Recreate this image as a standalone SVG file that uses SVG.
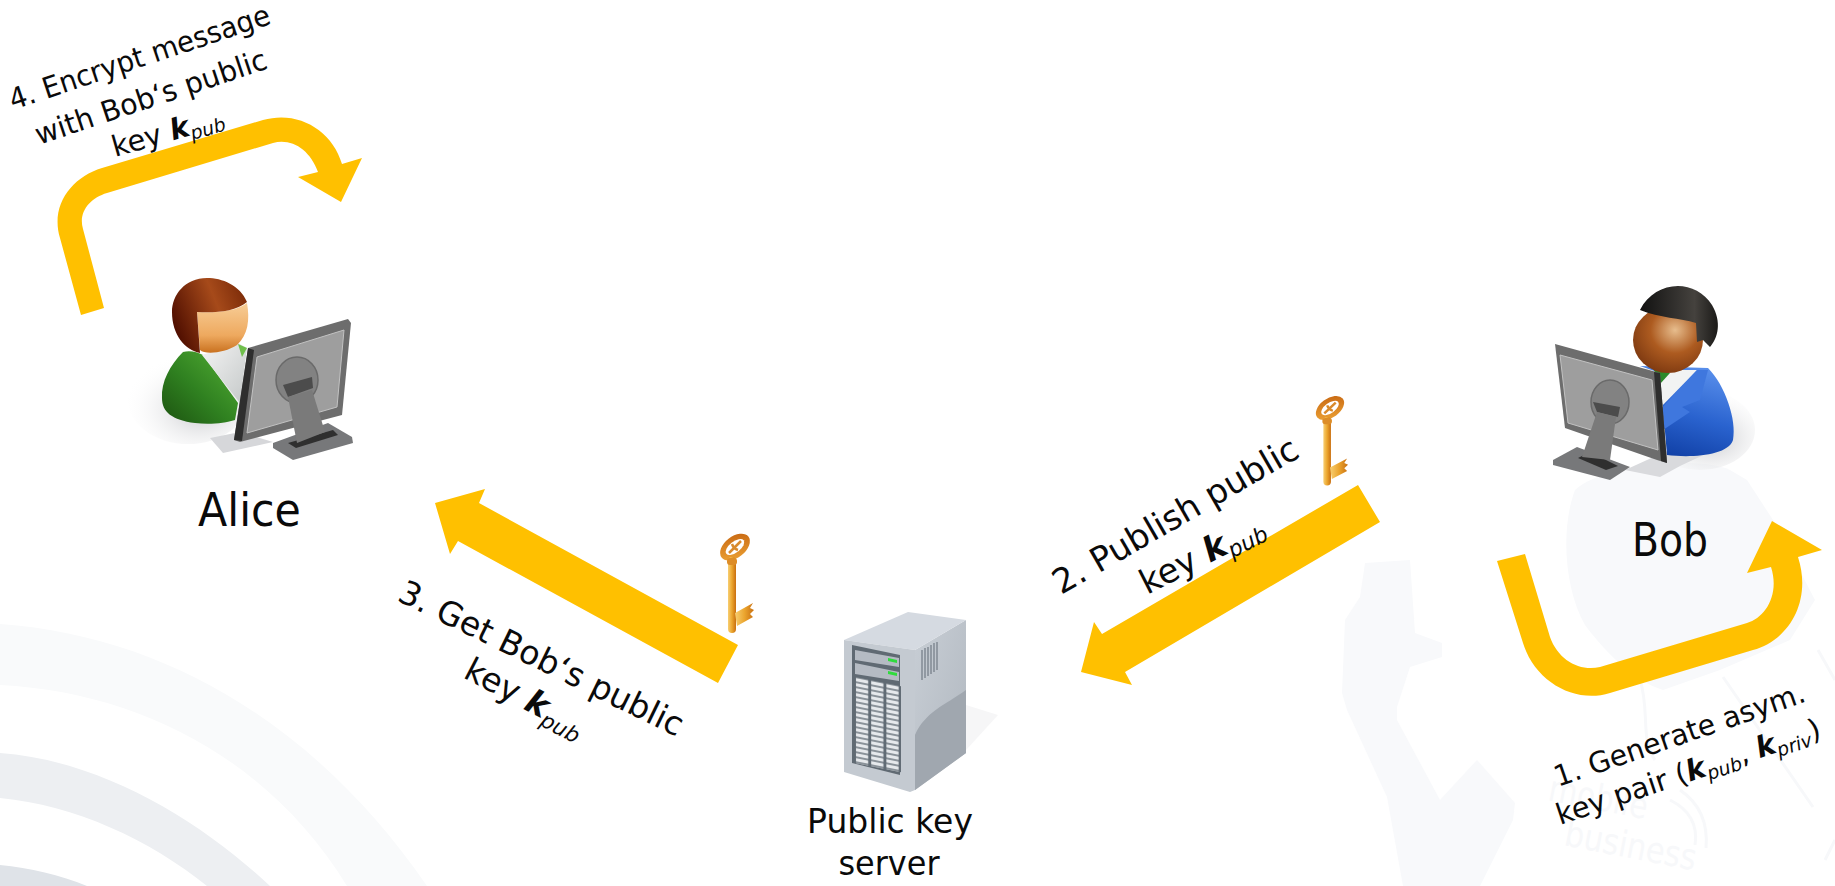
<svg xmlns="http://www.w3.org/2000/svg" xmlns:xlink="http://www.w3.org/1999/xlink" width="1835" height="886" viewBox="0 0 1835 886">
<style>
text{font-family:"DejaVu Sans","Liberation Sans",sans-serif;fill:#0a0a0a}
.m{text-anchor:middle}
.b{font-weight:bold;font-style:italic}
.s{font-style:italic;font-size:.65em}
.arrow{fill:#ffc000}
.wm{fill:#f8f9fb}
.wl{fill:none;stroke:#f7f8fa;stroke-width:3}
</style>
<defs>
<linearGradient id="keyG" x1="0" y1="0" x2="1" y2="0"><stop offset="0" stop-color="#f8cf72"/><stop offset=".5" stop-color="#eba52e"/><stop offset="1" stop-color="#c96f10"/></linearGradient>
<linearGradient id="bowG" x1="0" y1="1" x2="1" y2="0"><stop offset="0" stop-color="#f0a838"/><stop offset="1" stop-color="#c4620f"/></linearGradient>
<linearGradient id="green" x1="1" y1="0" x2="0" y2="1"><stop offset="0" stop-color="#55b035"/><stop offset=".55" stop-color="#2f8020"/><stop offset="1" stop-color="#1c5210"/></linearGradient>
<linearGradient id="blue" x1=".7" y1="0" x2=".4" y2="1"><stop offset="0" stop-color="#5a90ec"/><stop offset=".55" stop-color="#2a63cf"/><stop offset="1" stop-color="#1242a8"/></linearGradient>
<linearGradient id="hairA" x1="0" y1=".6" x2="1" y2=".2"><stop offset="0" stop-color="#4f0e00"/><stop offset=".6" stop-color="#a64a1a"/><stop offset="1" stop-color="#7a2a08"/></linearGradient>
<linearGradient id="faceA" x1="0" y1="0" x2="0" y2="1"><stop offset="0" stop-color="#f7cd96"/><stop offset=".65" stop-color="#eea95f"/><stop offset="1" stop-color="#c9711f"/></linearGradient>
<radialGradient id="faceB" cx=".6" cy=".35" r=".7"><stop offset="0" stop-color="#e7bd8d"/><stop offset=".5" stop-color="#ad5b20"/><stop offset="1" stop-color="#7c3810"/></radialGradient>
<linearGradient id="hairB" x1="0" y1="0" x2="1" y2="0"><stop offset="0" stop-color="#111"/><stop offset=".7" stop-color="#45423e"/><stop offset="1" stop-color="#1b1a18"/></linearGradient>
<linearGradient id="shirt" x1="0" y1="0" x2="1" y2="1"><stop offset="0" stop-color="#f4f4f4"/><stop offset="1" stop-color="#c4c8c8"/></linearGradient>
<radialGradient id="floor" cx=".6" cy=".6" r=".65"><stop offset="0" stop-color="#c6c7cb"/><stop offset="1" stop-color="#fff" stop-opacity="0"/></radialGradient>
<linearGradient id="side" x1="0" y1="0" x2="1" y2="1"><stop offset="0" stop-color="#c8ced5"/><stop offset="1" stop-color="#b0b7bf"/></linearGradient>
<pattern id="cells" width="15.2" height="5" patternUnits="userSpaceOnUse"><rect width="15.2" height="5" fill="#626c75"/><rect x="1" y=".7" width="12.2" height="3.6" fill="#e6e9ec"/></pattern>
<g id="key">
<ellipse cx="0" cy="0" rx="17" ry="10.5" transform="rotate(-38)" fill="url(#bowG)"/>
<ellipse cx="0" cy="0" rx="11" ry="5.5" transform="rotate(-38)" fill="#fff"/>
<path d="M-6,6 L6,-6 M-3,-3 C-2,0 0,2 3,3" stroke="#d98a2c" stroke-width="2.5" fill="none"/>
<rect x="-7" y="10" width="8" height="76" rx="4" fill="url(#keyG)"/>
<rect x="-8" y="11" width="10" height="7" rx="3" fill="#dd8d28"/>
<path d="M0,66 L18,56 L15,61 L19,63 L15,67 L18,70 L2,79 Z" fill="url(#keyG)"/>
</g>
</defs>
<rect width="1835" height="886" fill="#fff"/>
<g id="background">
<path d="M0,624 C170,636 320,730 427,886 L347,886 C270,760 140,692 0,685 Z" fill="#f9fafb"/>
<path d="M0,753 C100,760 200,820 270,886 L207,886 C150,840 75,805 0,798 Z" fill="#edeff2"/>
<path d="M0,865 C30,868 60,875 87,886 L0,886 Z" fill="#dfe3e8"/>
<path class="wm" d="M1365,563 L1410,560 L1415,633 L1442,643 L1442,657 L1410,667 L1397,707 L1397,720 L1440,800 L1477,760 L1515,803 L1513,820 L1480,886 L1403,886 L1387,797 L1347,710 L1342,693 L1345,620 L1360,597 Z"/>
<path class="wm" d="M1575,490 C1600,465 1700,455 1730,470 L1747,480 L1775,523 L1815,600 L1790,640 L1720,670 L1663,690 C1630,680 1600,645 1585,625 C1565,590 1560,530 1575,490 Z"/>
<path class="wl" d="M1723,677 L1813,807 M1640,680 C1650,710 1640,740 1655,760 M1818,650 L1835,680 M1825,860 L1835,840"/>
<path class="wl" d="M1670,800 C1690,810 1698,825 1695,845 M1680,790 C1702,805 1708,825 1706,848"/>
<text style="fill:#f7f8fa" font-size="36" transform="translate(1547,800) rotate(11) scale(.82,1)">mobile</text>
<text style="fill:#f7f8fa" font-size="36" transform="translate(1563,845) rotate(11) scale(.85,1)">business</text>
</g>
<g id="connectors">
<path id="arrow4" class="arrow" d="M81,315 L60,238 C50,205 72,177 102,168 L263,120 C298,110 332,130 342,164 L362,158 L341,202 L298,177 L318,172 C310,150 292,138 273,143 L107,193 C90,198 78,212 83,229 L104,308 Z"/>
<path id="arrow3" class="arrow" d="M738,645 L479,503 L485,489 L435,503 L450,554 L458,541 L718,683 Z"/>
<path id="arrow2" class="arrow" d="M1358,485 L1380,522 L1125,672 L1132,685 L1081,672 L1094,622 L1102,634 Z"/>
<path id="arrow1" class="arrow" d="M1497,561 L1523,643 C1535,682 1575,704 1610,693 L1753,650 C1790,640 1812,600 1798,557 L1822,550 L1772,521 L1747,573 L1771,567 C1780,595 1765,618 1747,623 L1600,667 C1580,672 1558,660 1550,637 L1525,554 Z"/>
</g>
<g id="alice">
<ellipse cx="188" cy="400" rx="60" ry="44" fill="url(#floor)"/>
<path d="M210,438 L223,453 L273,442 L240,432 Z" fill="#d6d7da"/>
<path d="M183,352 C170,365 161,382 162,398 C162,412 172,420 195,423 C210,425 225,423 235,420 L238,403 L203,355 C197,352 190,350 183,352 Z" fill="url(#green)"/>
<path d="M202,355 L238,343 L247,348 L240,403 Z" fill="url(#shirt)"/>
<path d="M238,344 L247,348 L242,357 Z" fill="#6fbf4a"/>
<path d="M197,312 C215,313 235,312 247,303 C250,320 248,335 237,345 C225,353 205,355 200,350 Z" fill="url(#faceA)"/>
<path d="M247,302 C240,285 222,278 207,278 C185,278 172,295 172,312 C172,335 185,350 200,353 L197,312 C215,313 235,312 247,302 Z" fill="url(#hairA)"/>
<path d="M273,443 L328,423 L352,437 L353,443 L293,460 L273,448 Z" fill="#77787a"/>
<path d="M288,443 L333,430 L338,435 L296,448 Z" fill="#2f2f2f"/>
<path d="M248,348 L348,319 L351,323 L342,415 L240,442 L234,440 Z" fill="#6d6d6d"/>
<path d="M248,348 L254,350 L242,441 L234,440 Z" fill="#2e2e2e"/>
<path d="M257,357 L344,330 L337,407 L247,433 Z" fill="#9e9e9e" stroke="#c2c2c2" stroke-width="1"/>
<ellipse cx="297" cy="380" rx="21" ry="23" fill="#828282" stroke="#6a6a6a" stroke-width="1.5"/>
<path d="M283,385 L312,377 L313,388 L288,397 Z" fill="#4c4c4c"/>
<path d="M288,397 L312,390 L325,432 L297,443 Z" fill="#7a7a7a"/>
<text class="m" font-size="46" transform="translate(249.5,526) scale(.93,1)">Alice</text>
</g>
<g id="bob">
<ellipse cx="1700" cy="430" rx="55" ry="40" fill="url(#floor)"/>
<path d="M1625,470 L1680,445 L1725,445 L1680,466 L1660,477 Z" fill="#d9dadd"/>
<path d="M1640,366 L1660,373 L1667,455 C1690,458 1728,456 1733,440 C1737,420 1725,385 1708,368 Z" fill="url(#blue)"/>
<path d="M1655,370 L1697,370 L1660,408 Z" fill="#f2f3f3"/>
<path d="M1653,368 L1670,373 L1660,384 Z" fill="#2b8a2a"/>
<path d="M1697,370 L1708,370 L1700,400 L1682,407 L1690,412 L1663,430 L1660,410 Z" fill="#3f77de"/>
<ellipse cx="1668" cy="340" rx="35" ry="33" fill="url(#faceB)"/>
<path d="M1640,310 C1655,280 1695,278 1712,305 C1722,322 1718,338 1710,347 L1703,340 L1697,342 L1696,323 C1680,318 1660,318 1640,310 Z" fill="url(#hairB)"/>
<path d="M1553,460 L1577,447 L1630,467 L1610,480 L1553,465 Z" fill="#77787a"/>
<path d="M1578,458 L1590,452 L1618,466 L1606,470 Z" fill="#2f2f2f"/>
<path d="M1555,344 L1660,373 L1667,463 L1657,460 L1565,428 Z" fill="#6d6d6d"/>
<path d="M1660,373 L1667,463 L1661,461 L1654,372 Z" fill="#2e2e2e"/>
<path d="M1560,355 L1652,380 L1658,450 L1568,423 Z" fill="#9e9e9e" stroke="#c2c2c2" stroke-width="1"/>
<ellipse cx="1610" cy="402" rx="19" ry="22" fill="#828282" stroke="#6a6a6a" stroke-width="1.5"/>
<path d="M1593,402 L1620,407 L1618,417 L1597,412 Z" fill="#4c4c4c"/>
<path d="M1597,412 L1616,417 L1610,460 L1582,457 Z" fill="#7a7a7a"/>
<text class="m" font-size="46" transform="translate(1670,556) scale(.855,1)">Bob</text>
</g>
<g id="server">
<path d="M966,705 L998,715 L966,750 Z" fill="#f6f6f7"/>
<path d="M915,650 L966,620 L966,753 L915,790 Z" fill="url(#side)"/>
<path d="M915,735 C925,712 945,705 966,690 L966,753 L915,790 Z" fill="#a0a7af"/>
<path d="M844,640 L908,612 L966,620 L915,650 Z" fill="#d5dae1"/>
<path d="M844,640 L915,650 L915,790 L910,792 L844,772 Z" fill="#c4cad1"/>
<path d="M852,645 L900,655 L900,775 L852,763 Z" fill="#606a73"/>
<path d="M855,650 L899,658 L899,667 L855,660 Z" fill="#b5bbc3"/>
<path d="M855,663 L899,672 L899,681 L855,674 Z" fill="#b5bbc3"/>
<path d="M888,658 L897,660 L897,663 L888,661 Z M888,671 L897,673 L897,676 L888,674 Z" fill="#2fdc3c"/>
<g transform="matrix(1,.2,0,1,855,677)"><rect width="46" height="86" fill="url(#cells)"/></g>
<path d="M922,650 V680 M925,648 V678 M928,647 V676 M931,645 V674 M934,643 V672 M937,642 V670" stroke="#7d858f" stroke-width="1.4" fill="none"/>
<text class="m" font-size="34" transform="translate(890,833) scale(.97,1)">Public key</text>
<text class="m" font-size="34" transform="translate(889,875) scale(.94,1)">server</text>
</g>
<g id="keys">
<use xlink:href="#key" href="#key" transform="translate(735,547)"/>
<use xlink:href="#key" href="#key" transform="translate(1330,408) scale(.95,.9)"/>
</g>
<g id="labels">
<text font-size="29" transform="translate(13,110) rotate(-18.5) scale(.95,1)">4. Encrypt message</text>
<text font-size="29" transform="translate(39,145) rotate(-18.5) scale(.98,1)">with Bob‘s public</text>
<text font-size="29" transform="translate(115,157) rotate(-16)">key <tspan class="b">k</tspan><tspan class="s" dy="5">pub</tspan></text>
<text font-size="33" transform="translate(396,600) rotate(26)">3. Get Bob‘s public</text>
<text font-size="33" transform="translate(462,677) rotate(27.5)">key <tspan class="b">k</tspan><tspan class="s" dy="7">pub</tspan></text>
<text font-size="34" transform="translate(1061,595) rotate(-30)">2. Publish public</text>
<text font-size="34" transform="translate(1147,595) rotate(-27)">key <tspan class="b">k</tspan><tspan class="s" dy="6">pub</tspan></text>
<text font-size="29" transform="translate(1558,787) rotate(-19) scale(.98,1)">1. Generate asym.</text>
<text font-size="29" transform="translate(1560,825) rotate(-18.5) scale(1,1)">key pair (<tspan class="b">k</tspan><tspan class="s" dy="5">pub</tspan><tspan dy="-5">, </tspan><tspan class="b">k</tspan><tspan class="s" dy="5">priv</tspan><tspan dy="-5">)</tspan></text>
</g>
</svg>
